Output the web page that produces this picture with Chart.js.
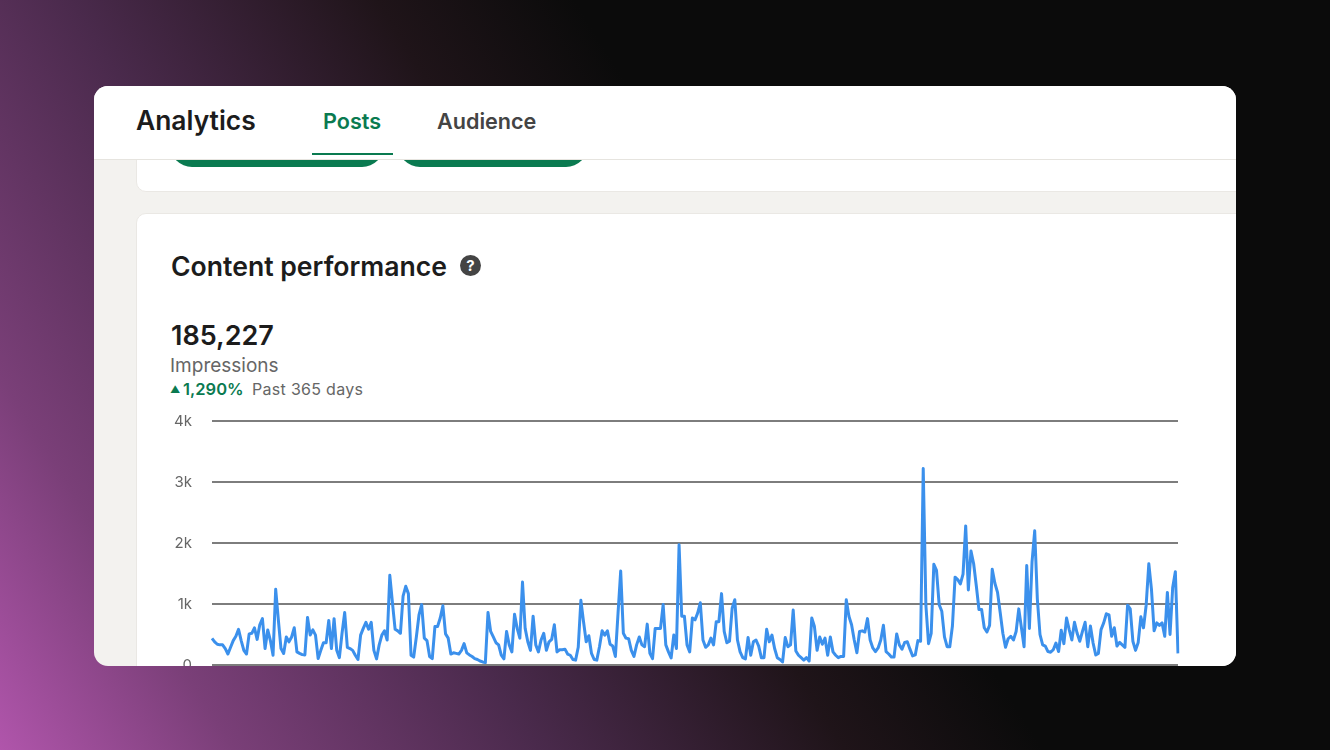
<!DOCTYPE html>
<html>
<head>
<meta charset="utf-8">
<title>Analytics</title>
<script src="https://cdn.jsdelivr.net/npm/chart.js@4/dist/chart.umd.min.js"></script>
<style>
html, body { margin: 0; padding: 0; width: 1330px; height: 750px; overflow: hidden; }
body {
	font-family: Inter, "Noto Sans", sans-serif;
	background: linear-gradient(58deg, #b055ab 0%, #7a3f78 13%, #4a2a4c 30%, #1f1419 47%, #0b0b0b 58%, #0b0b0b 100%);
}
.abs { position: absolute; white-space: nowrap; line-height: 1; }
#panel {
	position: absolute; left: 94px; top: 86px; width: 1142px; height: 580px;
	background: #f3f2ef; border-radius: 14px; overflow: hidden;
}
#topCard {
	position: absolute; left: 42px; top: 40px; width: 1120px; height: 66px;
	background: #fff; border: 1px solid #eae8e4; border-radius: 10px; box-sizing: border-box;
}
.btn { position: absolute; top: 58px; height: 23px; background: #0a7a50; border-radius: 0 0 22px 22px; }
#header {
	position: absolute; left: 0; top: 0; width: 100%; height: 73px;
	background: #fff; border-bottom: 1px solid #e6e4df; box-sizing: content-box;
}
#tabLine { position: absolute; left: 218px; top: 67px; width: 81px; height: 2px; background: #0a7a50; }
#contentCard {
	position: absolute; left: 42px; top: 127px; width: 1120px; height: 480px;
	background: #fff; border: 1px solid #eae8e4; border-radius: 10px; box-sizing: border-box;
}
#help {
	position: absolute; left: 366px; top: 169px; width: 21px; height: 21px; border-radius: 50%;
	background: #444; color: #fff; font: 700 15px/21px Inter, sans-serif; text-align: center;
}
#chartWrap { position: absolute; left: 66px; top: 319px; width: 1030px; height: 280px; }
</style>
</head>
<body>
<div id="panel">
	<div id="topCard"></div>
	<div class="btn" style="left:76px;width:214px"></div>
	<div class="btn" style="left:304px;width:190px"></div>
	<div id="header"></div>
	<div class="abs" style="left:42px;top:21px;font-size:26.4px;font-weight:600;color:#1c1c1c">Analytics</div>
	<div class="abs" style="left:229px;top:25px;font-size:21.6px;font-weight:600;color:#0a7a50">Posts</div>
	<div class="abs" style="left:343px;top:25px;font-size:21.6px;font-weight:600;color:#444">Audience</div>
	<div id="tabLine"></div>
	<div id="contentCard"></div>
	<div class="abs" style="left:77px;top:167px;font-size:26.6px;font-weight:600;color:#1c1c1c">Content performance</div>
	<div id="help">?</div>
	<div class="abs" style="left:77px;top:236px;font-size:27px;font-weight:600;color:#1c1c1c">185,227</div>
	<div class="abs" style="left:76px;top:270px;font-size:19px;color:#666">Impressions</div>
	<div class="abs" style="left:76px;top:295px;font-size:16.5px;font-weight:600;color:#0a7a50"><span style="font-size:10px;vertical-align:2px">&#9650;</span>&#8201;1,290%</div>
	<div class="abs" style="left:158px;top:295px;font-size:16px;letter-spacing:0.3px;color:#666">Past 365 days</div>
	<div id="chartWrap"><canvas id="myChart" width="1030" height="280"></canvas></div>
</div>
<script>
// Daily impressions for the past year
const impressions = [
	436,380,340,330,330,270,180,290,400,470,585,400,240,180,510,520,610,420,660,760,
	270,575,400,160,1240,740,270,190,460,380,460,610,215,190,170,165,780,490,575,490,
	105,240,365,365,730,270,760,240,120,520,860,290,270,240,160,90,490,600,700,585,
	700,240,100,330,490,560,410,1470,1020,585,560,520,1130,1290,1170,160,130,460,820,
	990,440,400,140,105,630,630,770,970,510,440,180,200,190,180,240,350,200,165,140,
	105,90,65,50,40,860,550,460,365,330,160,100,550,330,215,830,600,440,1360,
	600,380,240,800,330,215,410,520,240,380,420,660,215,250,250,260,180,160,90,80,
	290,1060,710,380,480,190,90,80,300,560,490,560,340,310,140,850,1540,520,440,430,
	240,140,330,460,330,300,670,190,105,600,600,600,990,330,215,115,490,270,1970,800,
	800,330,215,770,740,850,1020,410,290,330,440,330,710,710,1170,550,365,390,930,1070,
	410,215,120,100,450,160,380,410,310,120,120,585,380,490,270,120,90,50,450,300,
	330,900,230,160,120,80,120,65,770,630,240,460,340,440,160,460,215,160,120,140,
	140,1070,800,660,410,200,550,560,540,760,410,280,220,280,410,650,220,180,130,130,
	510,330,260,370,380,260,150,165,400,390,3220,980,350,520,1650,1550,990,880,460,300,
	300,640,1440,1400,1330,1490,2280,1230,1870,1660,1300,910,910,610,540,650,1570,1340,1190,860,
	520,290,430,470,410,550,920,610,300,1630,600,1690,2200,1080,500,330,310,220,210,250,
	360,220,570,350,770,580,410,700,520,390,550,700,300,640,360,165,190,580,690,840,
	820,470,610,310,370,330,290,980,920,390,240,370,790,610,980,1660,1240,560,690,650,
	690,470,1190,500,1270,1530,190
];
const dayLabels = impressions.map((v, i) => 'Day ' + (i + 1));
const yTicks = [0, 1000, 2000, 3000, 4000];

const ctx = document.getElementById('myChart').getContext('2d');
new Chart(ctx, {
	type: 'line',
	data: {
		labels: dayLabels,
		datasets: [{
			label: 'Impressions',
			data: impressions,
			borderColor: '#3b90ec',
			borderWidth: 3,
			borderJoinStyle: 'round',
			pointRadius: 0,
			tension: 0,
			fill: false,
		}],
	},
	options: {
		responsive: false,
		animation: false,
		layout: { padding: { top: 16, right: 12, bottom: 20, left: 0 } },
		plugins: { legend: { display: false }, tooltip: { enabled: false } },
		scales: {
			x: { display: false, offset: false },
			y: {
				min: 0,
				max: 4000,
				// keep the plot edges fixed, tick padding would otherwise inset top and bottom
				afterFit: function(scale) {
					scale.width = 52;
					scale.paddingTop = 0;
					scale.paddingBottom = 0;
				},
				afterBuildTicks: function(scale) { scale.ticks = yTicks.map(v => ({ value: v })); },
				border: { display: false },
				grid: { color: '#7d7d7d', lineWidth: 2, drawTicks: false },
				ticks: {
					padding: 20,
					color: '#666',
					font: { family: 'Inter', size: 15 },
					callback: function(value) { return value === 0 ? '0' : (value / 1000) + 'k'; },
				},
			},
		},
	},
});
</script>
</body>
</html>
